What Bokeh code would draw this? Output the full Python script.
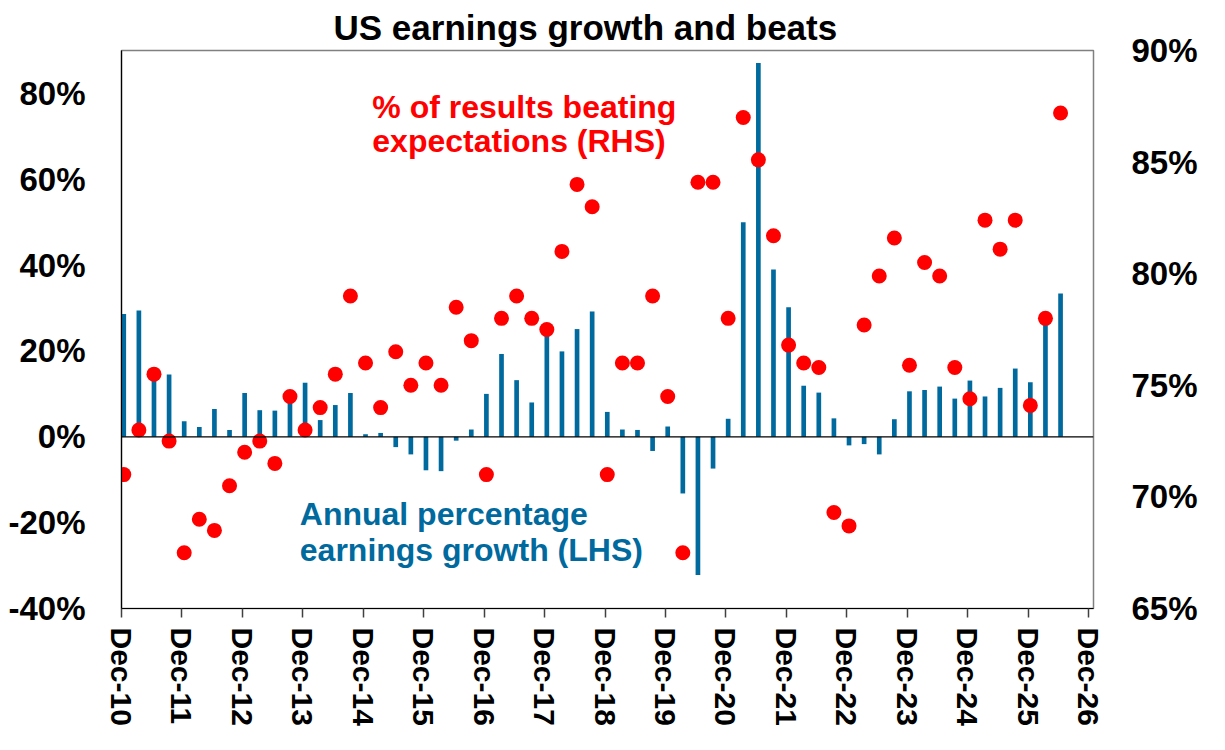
from bokeh.plotting import figure
from bokeh.models import (Range1d, LinearAxis, FixedTicker, Span, Label,
                          ColumnDataSource, PrintfTickFormatter, CustomJSTickFormatter)
from bokeh.embed import file_html
from bokeh.resources import INLINE

# ---------------- data ----------------
quarters = [f"{m}-{y:02d}" for y in range(10, 27) for m in ("Mar", "Jun", "Sep", "Dec")][3:3 + 63]

earnings_growth = [
    28.6, 29.4, 15.5, 14.5, 3.6, 2.3, 6.5, 1.6, 10.2, 6.2,
    6.1, 9.5, 12.6, 3.9, 7.4, 10.2, 0.6, 0.9, -2.4, -4.1,
    -7.8, -8.0, -0.9, 1.7, 10.0, 19.3, 13.2, 8.0, 24.5, 19.9,
    25.1, 29.2, 5.8, 1.7, 1.6, -3.3, 2.4, -13.2, -32.2, -7.4,
    4.2, 50.0, 87.1, 39.0, 30.2, 11.9, 10.3, 4.3, -2.0, -1.7,
    -4.1, 4.1, 10.6, 10.9, 11.7, 8.9, 13.1, 9.4, 11.4, 15.9,
    12.7, 27.0, 33.4,
]

beat_share = [
    71.0, 73.0, 75.5, 72.5, 67.5, 69.0, 68.5, 70.5, 72.0, 72.5,
    71.5, 74.5, 73.0, 74.0, 75.5, 79.0, 76.0, 74.0, 76.5, 75.0,
    76.0, 75.0, 78.5, 77.0, 71.0, 78.0, 79.0, 78.0, 77.5, 81.0,
    84.0, 83.0, 71.0, 76.0, 76.0, 79.0, 74.5, 67.5, 84.1, 84.1,
    78.0, 87.0, 85.1, 81.7, 76.8, 76.0, 75.8, 69.3, 68.7, 77.7,
    79.9, 81.6, 75.9, 80.5, 79.9, 75.8, 74.4, 82.4, 81.1, 82.4,
    74.1, 78.0, 87.2,
]

x_tick_labels = [f"Dec-{y:02d}" for y in range(10, 27)]
left_ticks = [-40, -20, 0, 20, 40, 60, 80]
right_ticks = [65, 70, 75, 80, 85, 90]

# ---------------- styles ----------------
BLUE = "#006A9E"
RED = "#FF0000"
FONT = "Liberation Sans"
OFF = 0.15  # offset of the date ticks relative to the bar centres (in quarters)

src = ColumnDataSource(dict(x=list(range(len(quarters))), q=quarters,
                            growth=earnings_growth, beats=beat_share))

p = figure(width=1209, height=734, output_backend="svg", toolbar_location=None,
           x_range=Range1d(-OFF, 64.18), y_range=Range1d(-40, 90),
           min_border_left=121, min_border_right=116, min_border_top=50,
           min_border_bottom=126, background_fill_color="white",
           border_fill_color="white")
p.extra_y_ranges = {"beats": Range1d(65, 90)}

p.title.text = "US earnings growth and beats"
p.title.text_font = FONT
p.title.text_font_style = "bold"
p.title.text_font_size = "35px"
p.title.text_color = "black"
p.title.align = "left"
p.title.offset = 212
p.title.standoff = 7

p.xgrid.visible = False
p.ygrid.visible = False
p.outline_line_color = "#808080"
p.outline_line_width = 1.5

# bars (LHS)
p.vbar(x="x", top="growth", bottom=0, width=0.31, source=src,
       fill_color=BLUE, line_color=None)

# zero line
p.add_layout(Span(location=0, dimension="width", line_color="black", line_width=1.2))

# dots (RHS)
p.scatter(x="x", y="beats", source=src, y_range_name="beats", size=15,
          fill_color=RED, line_color=None)

# left axis
ya = p.yaxis[0]
ya.ticker = FixedTicker(ticks=left_ticks)
ya.formatter = PrintfTickFormatter(format="%d%%")
ya.axis_line_color = "black"
ya.axis_line_width = 1.2
ya.major_tick_line_color = None
ya.minor_tick_line_color = None
ya.major_label_standoff = 30
ya.major_label_text_font = FONT
ya.major_label_text_font_style = "bold"
ya.major_label_text_font_size = "33px"
ya.major_label_text_color = "black"

# right axis
ra = LinearAxis(y_range_name="beats", ticker=FixedTicker(ticks=right_ticks),
                formatter=PrintfTickFormatter(format="%d%%"))
ra.axis_line_color = None
ra.major_tick_line_color = None
ra.minor_tick_line_color = None
ra.major_label_standoff = 32
ra.major_label_text_font = FONT
ra.major_label_text_font_style = "bold"
ra.major_label_text_font_size = "33px"
ra.major_label_text_color = "black"
p.add_layout(ra, "right")

# bottom axis
xa = p.xaxis[0]
xa.ticker = FixedTicker(ticks=[4 * i - OFF for i in range(len(x_tick_labels))])
xa.formatter = CustomJSTickFormatter(args=dict(labels=x_tick_labels, off=OFF), code="""
    const i = Math.round((tick + off) / 4);
    return (i >= 0 && i < labels.length) ? labels[i] : "";
""")
xa.axis_line_color = "black"
xa.axis_line_width = 1.2
xa.major_tick_line_color = "#404040"
xa.major_tick_line_width = 1.5
xa.major_tick_in = 0
xa.major_tick_out = 9
xa.minor_tick_line_color = None
xa.major_label_orientation = "vertical"
xa.major_label_standoff = 10
xa.major_label_text_font = FONT
xa.major_label_text_font_style = "bold"
xa.major_label_text_font_size = "30px"
xa.major_label_text_color = "black"

# texts
def add_text(x, y, text, color, size, align="left", baseline="alphabetic"):
    p.add_layout(Label(x=x, y=y, text=text, text_color=color, text_font=FONT,
                       text_font_style="bold", text_font_size=size,
                       text_align=align, text_baseline=baseline))

add_text(16.45, 76.8, "% of results beating", RED, "32px")
add_text(16.45, 68.9, "expectations (RHS)", RED, "32px")
add_text(11.65, -17.9, "Annual percentage", BLUE, "32px")
add_text(11.65, -26.3, "earnings growth (LHS)", BLUE, "32px")

open("out.html", "w").write(file_html(p, INLINE))
